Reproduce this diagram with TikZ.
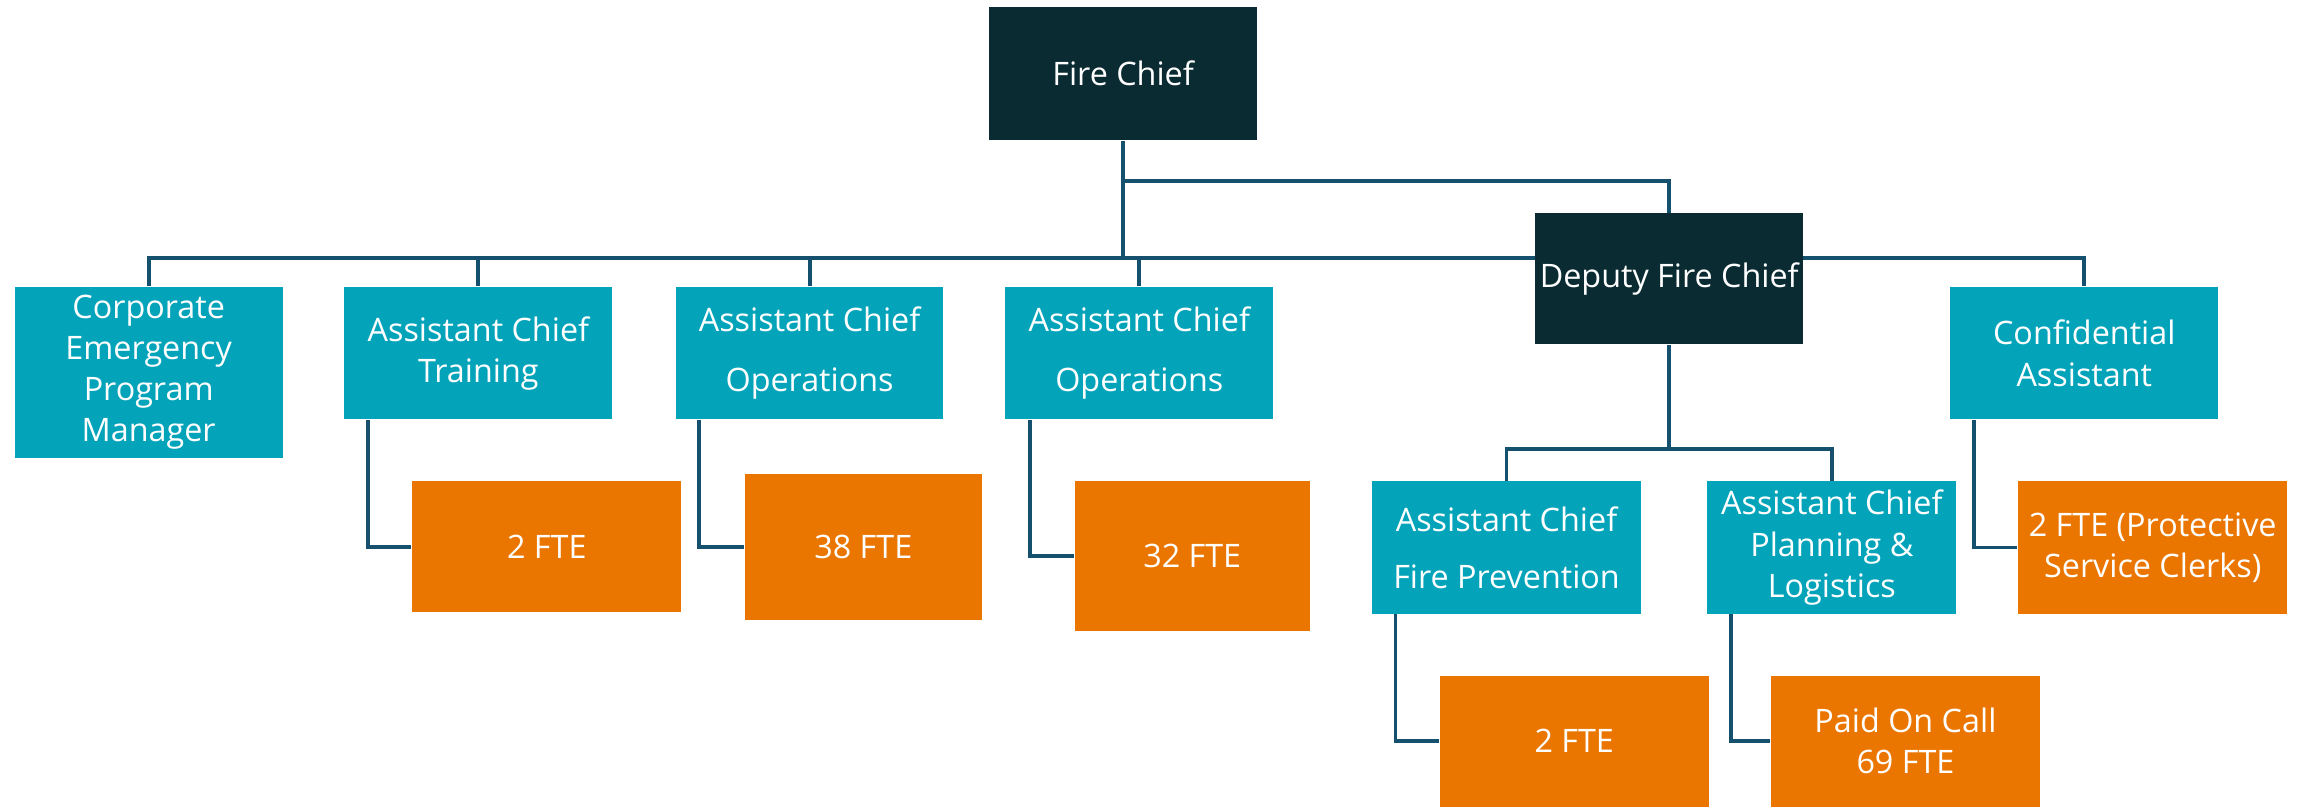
\documentclass[tikz,border=0pt]{standalone}
\usepackage{fontspec}
\setmainfont{Open Sans}
\usepackage{tikz}
\usetikzlibrary{positioning,backgrounds}
\definecolor{chiefcol}{HTML}{0B2B33}
\definecolor{postcol}{HTML}{03A3BA}
\definecolor{staffcol}{HTML}{EA7600}
\definecolor{linkcol}{HTML}{15506E}
\tikzset{
  box/.style={inner sep=0pt, align=center, text=white,
    font=\fontsize{9.2}{11.7}\selectfont},
  chief/.style={box, fill=chiefcol, minimum width=2.679cm, minimum height=1.325cm},
  post/.style={box, fill=postcol, minimum width=2.679cm, minimum height=1.325cm},
  staff/.style={box, fill=staffcol, minimum width=2.694cm, minimum height=1.31cm},
  link/.style={draw=linkcol, line width=1.1pt}
}

\begin{document}
\begin{tikzpicture}[x=0.014719cm,y=-0.014719cm]
\useasboundingbox (0,0) rectangle (1568,548);

% top of the chart
\node[chief] (chief) at (763,50) {Fire Chief};
\node[chief, minimum height=1.31cm] (deputy) at (1134,189.5) {Deputy Fire Chief};

% second row
\node[post, minimum height=1.707cm] (cepm) at (101,253) {Corporate\\Emergency\\Program\\Manager};
\node[post] (actrain) at (325,240) {Assistant Chief\\Training};
\node[post] (acops) at (550,240) {Assistant Chief\\[5.4pt]Operations};
\node[post] (acopsb) at (774,240) {Assistant Chief\\[5.4pt]Operations};
\node[post] (confid) at (1416,240) {Confidential\\Assistant};

% under the deputy
\node[post, minimum width=2.694cm] (acfp) at (1023.5,372) {Assistant Chief\\[4.6pt]Fire Prevention};
\node[post, minimum width=2.488cm] (acpl) at (1244.5,372) {Assistant Chief\\Planning \&\\Logistics};

% staff counts
\node[staff] (fteA) at (371.5,371.5) {2 FTE};
\node[staff, minimum width=2.37cm, minimum height=1.457cm] (fteB) at (586.5,371.5) {38 FTE};
\node[staff, minimum width=2.355cm, minimum height=1.501cm] (fteC) at (810,378) {32 FTE};
\node[staff, minimum height=1.325cm] (fteD) at (1462.5,372) {2 FTE (Protective\\Service Clerks)};
\node[staff] (fteE) at (1069.5,503.5) {2 FTE};
\node[staff] (poc) at (1294.5,503.5) {Paid On Call\\69 FTE};

\coordinate (fork) at (763,123);
\coordinate (rail) at (763,175);
\coordinate (split) at (1134,305);

\begin{scope}[on background layer]
\draw[link] (chief.south) -- (rail);
\draw[link] (fork) -| (deputy.north);
\draw[link] (cepm.north) |- (rail) -| (confid.north);
\draw[link] (actrain.north) -- (actrain.north |- rail);
\draw[link] (acops.north) -- (acops.north |- rail);
\draw[link] (acopsb.north) -- (acopsb.north |- rail);
\draw[link] (deputy.south) -- (split);
\draw[link] (acfp.north) |- (split) -| (acpl.north);

\draw[link] ([xshift=-1.104cm]actrain.south) |- (fteA.west);
\draw[link] ([xshift=-1.104cm]acops.south) |- (fteB.west);
\draw[link] ([xshift=-1.09cm]acopsb.south) |- (fteC.west);
\draw[link] ([xshift=-1.104cm]confid.south) |- (fteD.west);
\draw[link] ([xshift=-1.111cm]acfp.south) |- (fteE.west);
\draw[link] ([xshift=-1.008cm]acpl.south) |- (poc.west);
\end{scope}
\end{tikzpicture}
\end{document}
